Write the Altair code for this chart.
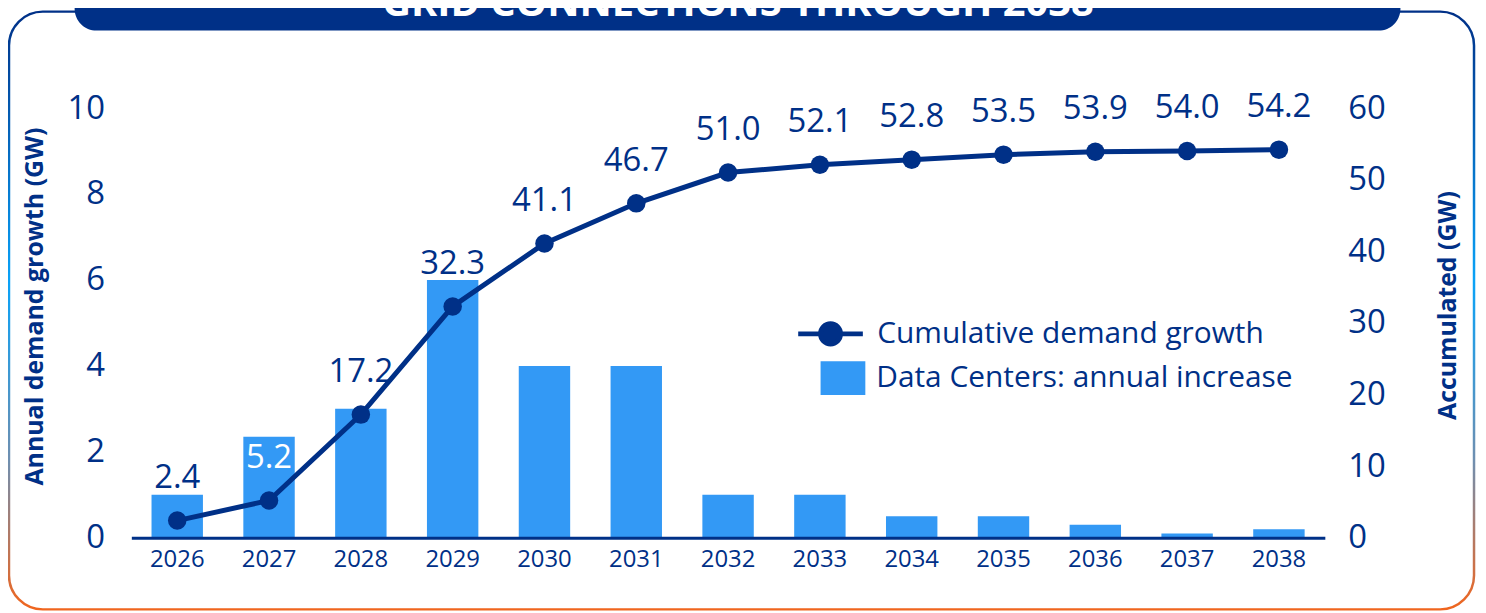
import altair as alt
import pandas as pd

years = ["2026", "2027", "2028", "2029", "2030", "2031", "2032",
         "2033", "2034", "2035", "2036", "2037", "2038"]
annual_dc = [1.0, 2.35, 3.0, 6.0, 4.0, 4.0, 1.0, 1.0, 0.5, 0.5, 0.3, 0.1, 0.2]
cumulative = [2.4, 5.2, 17.2, 32.3, 41.1, 46.7, 51.0, 52.1, 52.8, 53.5, 53.9, 54.0, 54.2]

title_text = "GRID CONNECTIONS THROUGH 2038"
bar_name = "Data Centers: annual increase"
line_name = "Cumulative demand growth"
left_title = "Annual demand growth (GW)"
right_title = "Accumulated (GW)"

DARK = "#003087"
BAR = "#3399f5"
FONT = "Open Sans"

df = pd.DataFrame({
    "year": years,
    "annual": annual_dc,
    "cum": cumulative,
    "bar_series": [bar_name] * len(years),
    "line_series": [line_name] * len(years),
})

one = pd.DataFrame({"t": [title_text]})

x_enc = alt.X("year:N", sort=years, title=None,
              scale=alt.Scale(paddingInner=0.44, paddingOuter=0.22),
              axis=alt.Axis(labelAngle=0, labelFont=FONT, labelFontSize=24,
                            labelColor=DARK, ticks=False, domainColor=DARK,
                            domainWidth=3, labelPadding=10, grid=False, zindex=1))

gradient = alt.LinearGradient(
    gradient="linear",
    stops=[alt.GradientStop(color="#003087", offset=0),
           alt.GradientStop(color="#0aa2f7", offset=0.45),
           alt.GradientStop(color="#6f8fb0", offset=0.75),
           alt.GradientStop(color="#f0651e", offset=1)],
    x1=0, x2=0, y1=0, y2=1)

border = alt.Chart(one).mark_rect(
    fill="transparent", stroke=gradient, strokeWidth=2.5, cornerRadius=34
).encode(x=alt.value(-123), x2=alt.value(1350), y=alt.value(-97), y2=alt.value(504))

banner = alt.Chart(one).mark_rect(
    fill=DARK, cornerRadiusBottomLeft=22, cornerRadiusBottomRight=22
).encode(x=alt.value(-57), x2=alt.value(1276), y=alt.value(-140), y2=alt.value(-78))

title = alt.Chart(one).mark_text(
    font=FONT, fontWeight="bold", fontSize=40, color="white",
    align="center", baseline="alphabetic"
).encode(x=alt.value(610), y=alt.value(-93), text="t:N")

bars = alt.Chart(df).mark_bar(color=BAR).encode(
    x=x_enc,
    y=alt.Y("annual:Q", scale=alt.Scale(domain=[0, 10]),
            axis=alt.Axis(title=left_title, values=[0, 2, 4, 6, 8, 10],
                          labelFont=FONT, labelFontSize=33, labelColor=DARK,
                          titleFont=FONT, titleFontSize=25, titleFontWeight="bold",
                          titleColor=DARK, ticks=False, domain=False, grid=False,
                          labelPadding=27, titlePadding=20, titleY=199, zindex=1)),
    color=alt.Color("bar_series:N", scale=alt.Scale(range=[BAR]),
                    legend=alt.Legend(title=None, orient="none", legendX=693, legendY=249,
                                      symbolType="M-1,-0.75 H1 V0.75 H-1 Z",
                                      symbolSize=2025, symbolStrokeWidth=0,
                                      labelFont=FONT, labelFontSize=30, labelColor=DARK,
                                      labelOffset=11, padding=0, labelLimit=600)),
)

y_right = alt.Y("cum:Q", scale=alt.Scale(domain=[0, 60]),
                axis=alt.Axis(title=right_title, orient="right",
                              values=[0, 10, 20, 30, 40, 50, 60],
                              labelFont=FONT, labelFontSize=33, labelColor=DARK,
                              titleFont=FONT, titleFontSize=25, titleFontWeight="bold",
                              titleColor=DARK, ticks=False, domain=False, grid=False,
                              titleAngle=270, titleY=198,
                              labelPadding=23, titlePadding=76, zindex=1))

line = alt.Chart(df).mark_line(strokeWidth=5).encode(
    x=x_enc,
    y=y_right,
    color=alt.Color("line_series:N", scale=alt.Scale(range=[DARK]),
                    legend=alt.Legend(title=None, orient="none", legendX=668, legendY=192,
                                      symbolType="M-1,0 L1,0 M0.31,0 A0.31,0.31 0 1,1 -0.31,0 A0.31,0.31 0 1,1 0.31,0 Z",
                                      symbolSize=4225, symbolStrokeWidth=5,
                                      symbolFillColor=DARK, symbolStrokeColor=DARK,
                                      labelFont=FONT, labelFontSize=30, labelColor=DARK,
                                      labelOffset=12, padding=0, labelLimit=600)),
)

points = alt.Chart(df).mark_circle(size=346, opacity=1, color=DARK).encode(
    x=x_enc, y=y_right)

labels = alt.Chart(df).mark_text(
    font=FONT, fontSize=33, baseline="middle", align="center", dy=-43
).encode(
    x=x_enc,
    y=y_right,
    text=alt.Text("cum:Q", format=".1f"),
    color=alt.condition(alt.datum.year == "2027", alt.value("white"), alt.value(DARK)),
)

right_layer = alt.layer(line, points, labels)
data_layer = alt.layer(bars, right_layer).resolve_scale(y="independent", color="independent").resolve_legend(color="independent")

chart = alt.layer(border, banner, title, data_layer).resolve_scale(
    y="independent", color="independent"
).properties(
    width=1200, height=432,
    autosize=alt.AutoSizeParams(type="none"),
    padding={"left": 124, "top": 99, "right": 154, "bottom": 74},
    background="white",
).configure_view(stroke=None)

chart.save("out.html", embed_options={"renderer": "svg", "actions": False})
